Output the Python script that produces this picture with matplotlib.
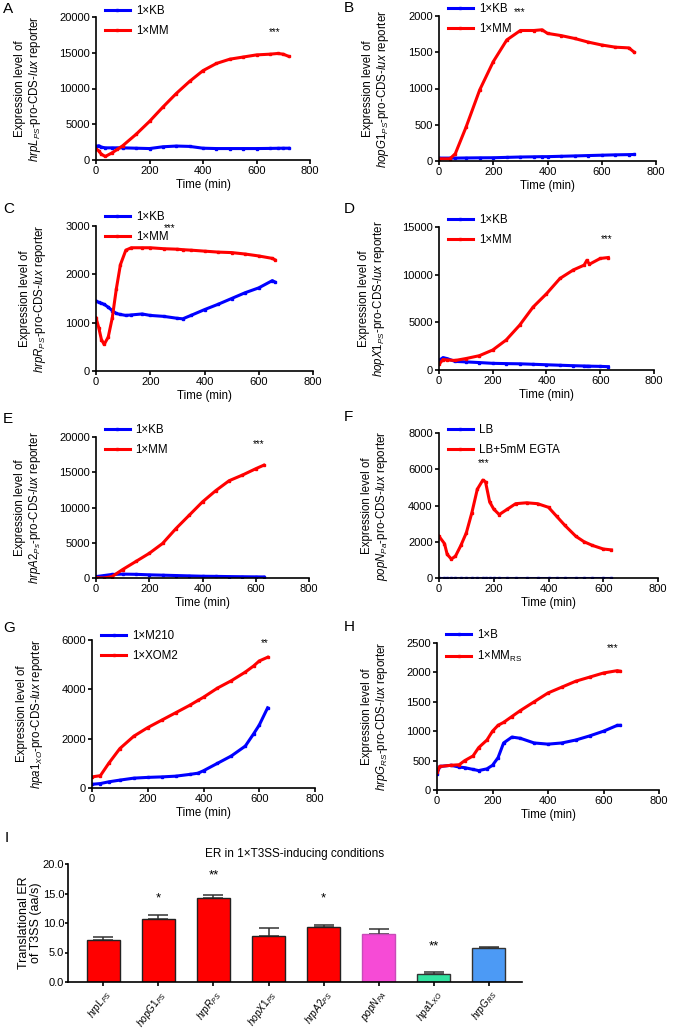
import matplotlib
matplotlib.use("Agg")
import matplotlib.pyplot as plt
import numpy as np

plt.rcParams['font.family'] = ['Liberation Sans', 'DejaVu Sans']
plt.rcParams['mathtext.fontset'] = 'custom'
plt.rcParams['mathtext.rm'] = 'Liberation Sans'
plt.rcParams['mathtext.it'] = 'Liberation Sans:italic'
plt.rcParams['mathtext.bf'] = 'Liberation Sans:bold'

W, H = 685, 1029

# ---- time course data ----
a_t = [0, 10, 20, 35, 60, 80, 100, 150, 200, 250, 300, 350, 400, 450, 500, 550, 600, 650, 680, 700, 720]
a_kb = [1900, 2000, 1800, 1700, 1700, 1700, 1700, 1650, 1600, 1850, 1950, 1900, 1650, 1600, 1600, 1600, 1600, 1620, 1640, 1650, 1650]
a_mm = [1500, 1300, 800, 500, 1000, 1500, 2000, 3600, 5400, 7400, 9300, 11000, 12500, 13500, 14100, 14400, 14700, 14800, 14900, 14800, 14500]

b_t = [0, 40, 60, 100, 150, 200, 250, 300, 350, 380, 400, 450, 500, 550, 600, 650, 700, 720]
b_kb = [40, 40, 40, 42, 44, 45, 50, 55, 58, 60, 60, 65, 70, 75, 80, 85, 88, 90]
b_mm = [30, 30, 100, 470, 980, 1370, 1670, 1800, 1800, 1810, 1760, 1730, 1690, 1640, 1600, 1570, 1560, 1500]

c_t = [0, 10, 20, 30, 45, 60, 75, 90, 110, 130, 170, 200, 250, 300, 320, 350, 400, 450, 500, 550, 600, 650, 660]
c_kb = [1450, 1420, 1400, 1380, 1320, 1250, 1190, 1170, 1150, 1160, 1180, 1150, 1130, 1090, 1080, 1150, 1270, 1380, 1500, 1620, 1720, 1870, 1840]
c_mm = [1100, 900, 650, 550, 700, 1100, 1700, 2200, 2500, 2550, 2550, 2550, 2530, 2520, 2510, 2500, 2480, 2460, 2450, 2420, 2380, 2330, 2300]

d_t = [0, 15, 30, 60, 100, 150, 200, 250, 300, 350, 400, 450, 500, 540, 550, 560, 600, 630]
d_kb = [1000, 1300, 1200, 900, 850, 780, 700, 670, 650, 600, 550, 500, 450, 420, 410, 400, 380, 350]
d_mm = [600, 1100, 1050, 1000, 1200, 1500, 2100, 3150, 4700, 6600, 8000, 9600, 10500, 11000, 11500, 11100, 11700, 11800]

e_t = [0, 30, 60, 100, 150, 200, 250, 300, 350, 400, 450, 500, 550, 600, 630]
e_kb = [200, 350, 500, 550, 520, 450, 400, 350, 300, 250, 230, 200, 180, 160, 150]
e_mm = [50, 0, 200, 1200, 2350, 3500, 4900, 7000, 8900, 10800, 12400, 13800, 14600, 15500, 16000]

f_t = [0, 20, 30, 45, 60, 80, 100, 120, 140, 160, 170, 185, 200, 220, 250, 280, 320, 360, 400, 430, 460, 500, 530, 560, 600, 630]
f_lb = [20, 20, 20, 20, 20, 20, 20, 20, 20, 20, 20, 20, 20, 20, 20, 20, 20, 20, 20, 20, 20, 20, 20, 20, 20, 20]
f_egta = [2300, 1900, 1300, 1050, 1200, 1800, 2500, 3600, 4900, 5400, 5300, 4200, 3800, 3500, 3800, 4100, 4150, 4100, 3900, 3400, 2900, 2300, 2000, 1800, 1600, 1550]

g_t = [0, 30, 60, 100, 150, 200, 250, 300, 350, 380, 400, 450, 500, 550, 580, 600, 630]
g_m210 = [150, 180, 250, 320, 400, 430, 450, 480, 550, 600, 700, 1000, 1300, 1700, 2200, 2550, 3250]
g_xom2 = [450, 500, 1000, 1600, 2100, 2450, 2750, 3050, 3350, 3550, 3680, 4050, 4350, 4700, 4950, 5150, 5300]

h_t = [0, 10, 50, 80, 100, 130, 150, 180, 200, 220, 240, 270, 300, 350, 400, 450, 500, 550, 600, 650, 660]
h_b = [280, 400, 420, 390, 380, 350, 330, 360, 420, 550, 800, 900, 880, 800, 780, 800, 850, 920, 1000, 1100, 1100]
h_mm = [300, 400, 420, 430, 500, 580, 720, 850, 1000, 1100, 1150, 1250, 1350, 1500, 1650, 1750, 1850, 1920, 1990, 2030, 2020]

# ---- bar chart data ----
genes = ['hrpL', 'hopG1', 'hrpR', 'hopX1', 'hrpA2', 'popN', 'hpa1', 'hrpG']
gene_subs = ['PS', 'PS', 'PS', 'PS', 'PS', 'PA', 'XO', 'RS']
er_mean = [7.1, 10.65, 14.2, 7.8, 9.25, 8.2, 1.4, 5.8]
er_sem = [0.5, 0.7, 0.55, 1.4, 0.35, 0.75, 0.35, 0.12]
er_stars = ['', '*', '**', '', '*', '', '**', '']
bar_colors = ['#FF0000', '#FF0000', '#FF0000', '#FF0000', '#FF0000', '#F64BD6', '#33E3A0', '#4C9AF5']
bar_edges = ['#222222', '#222222', '#222222', '#222222', '#222222', '#C84BB8', '#333333', '#333333']


def px_axes(fig, x0, y0, x1, y1):
    return fig.add_axes([x0 / W, 1 - y1 / H, (x1 - x0) / W, (y1 - y0) / H])


def style(ax, size=8):
    for s in ['top', 'right']:
        ax.spines[s].set_visible(False)
    for s in ['left', 'bottom']:
        ax.spines[s].set_linewidth(1.2)
    ax.tick_params(direction='out', length=3, width=1.2, labelsize=size, pad=1.5)


fig = plt.figure(figsize=(W / 100, H / 100), dpi=100)

panels = [
    # letter, letter pos, box, t, blue, red, labels, ymax, ystep, gene, stars, star pos, ylabel x, legend offset
    ('A', (3, 2), (96, 17, 310, 160), a_t, a_kb, a_mm, ('1×KB', '1×MM'), 20000, 5000,
     r'$hrpL_{PS}$', '***', (669, 17900), -0.247, 5),
    ('B', (344, 1), (439, 16, 656, 161), b_t, b_kb, b_mm, ('1×KB', '1×MM'), 2000, 500,
     r'$hopG1_{PS}$', '***', (296, 2060), -0.222, 6),
    ('C', (3, 202), (96, 226, 313, 371), c_t, c_kb, c_mm, ('1×KB', '1×MM'), 3000, 1000,
     r'$hrpR_{PS}$', '***', (272, 2950), -0.222, 8),
    ('D', (344, 202), (439, 227, 654, 370), d_t, d_kb, d_mm, ('1×KB', '1×MM'), 15000, 5000,
     r'$hopX1_{PS}$', '***', (623, 13740), -0.242, 6),
    ('E', (3, 412), (96, 437, 309, 578), e_t, e_kb, e_mm, ('1×KB', '1×MM'), 20000, 5000,
     r'$hrpA2_{Ps}$', '***', (609, 19060), -0.247, 6),
    ('F', (344, 410), (439, 433, 658, 578), f_t, f_lb, f_egta, ('LB', 'LB+5mM EGTA'), 8000, 2000,
     r'$popN_{Pa}$', '***', (162, 6350), -0.222, 2),
    ('G', (3, 621), (92, 640, 315, 788), g_t, g_m210, g_xom2, ('1×M210', '1×XOM2'), 6000, 2000,
     r'$hpa1_{XO}$', '**', (621, 5890), -0.21, 3),
    ('H', (344, 620), (437, 643, 659, 790), h_t, h_b, h_mm, ('1×B', r'1×MM$_{\rm RS}$'), 2500, 500,
     r'$hrpG_{RS}$', '***', (632, 2415), -0.21, 7),
]

for letter, lpos, box, t, blue, red, labs, ymax, ystep, gname, star, spos, ylx, loff in panels:
    ax = px_axes(fig, *box)
    style(ax)
    ax.plot(t, blue, color='#0000FF', lw=2.2, marker='s', ms=1.6, label=labs[0])
    ax.plot(t, red, color='#FF0000', lw=2.2, marker='s', ms=1.6, label=labs[1])
    ax.set_xlim(0, 800)
    ax.set_ylim(0, ymax)
    ax.set_xticks([0, 200, 400, 600, 800])
    ax.set_yticks(np.arange(0, ymax + 1, ystep))
    ax.set_xlabel('Time (min)', fontsize=8.3, labelpad=2)
    ax.set_ylabel('Expression level of\n' + gname + '-pro-CDS-$lux$ reporter', fontsize=8.3,
                  linespacing=1.1)
    ax.yaxis.set_label_coords(ylx, 0.5)
    hpx = box[3] - box[1]
    ax.legend(loc='upper left', bbox_to_anchor=(0.04, 1 + (loff + 7) / hpx), frameon=False,
              fontsize=8.3, handlelength=2.2, handletextpad=0.5, labelspacing=0.7,
              borderpad=0, borderaxespad=0)
    ax.text(spos[0], spos[1], star, fontsize=7, ha='center', va='center', clip_on=False)
    fig.text(lpos[0] / W, 1 - lpos[1] / H, letter, fontsize=11, va='top', ha='left')

# ---- panel I ----
axI = px_axes(fig, 68, 864, 522, 982)
style(axI, size=8)
axI.tick_params(axis='y', length=2, pad=0.8)
xpos = np.arange(len(genes))
axI.bar(xpos, er_mean, width=0.6, color=bar_colors, edgecolor=bar_edges, linewidth=1,
        zorder=2)
axI.errorbar(xpos, er_mean, yerr=[np.zeros(len(er_sem)), er_sem], fmt='none',
             ecolor='#333333', elinewidth=1.1, capsize=7, capthick=1.1, zorder=1)
for x, m, s in zip(xpos, er_mean, er_stars):
    if s:
        ypos = {'*': 14.2, '**': 18.1}[s] if m > 5 else 6.1
        axI.text(x, ypos, s, fontsize=9.5, ha='center', va='center')
axI.set_xlim(-0.64, 7.6)
axI.set_ylim(0, 20)
axI.set_yticks([0, 5, 10, 15, 20])
axI.set_yticklabels(['0.0', '5.0', '10.0', '15.0', '20.0'])
axI.set_xticks(xpos)
axI.set_xticklabels([r'$%s_{%s}$' % (g, s) for g, s in zip(genes, gene_subs)],
                    rotation=54, ha='right', rotation_mode='anchor', fontsize=7.2)
axI.tick_params(axis='x', pad=1.2)
axI.set_ylabel('Translational ER\nof T3SS (aa/s)', fontsize=9, linespacing=1.0)
axI.yaxis.set_label_coords(-0.058, 0.5)
axI.set_title('ER in 1×T3SS-inducing conditions', fontsize=8.5, pad=5)
fig.text(5 / W, 1 - 831 / H, 'I', fontsize=11, va='top', ha='left')

fig.savefig('out.png', dpi=100)
